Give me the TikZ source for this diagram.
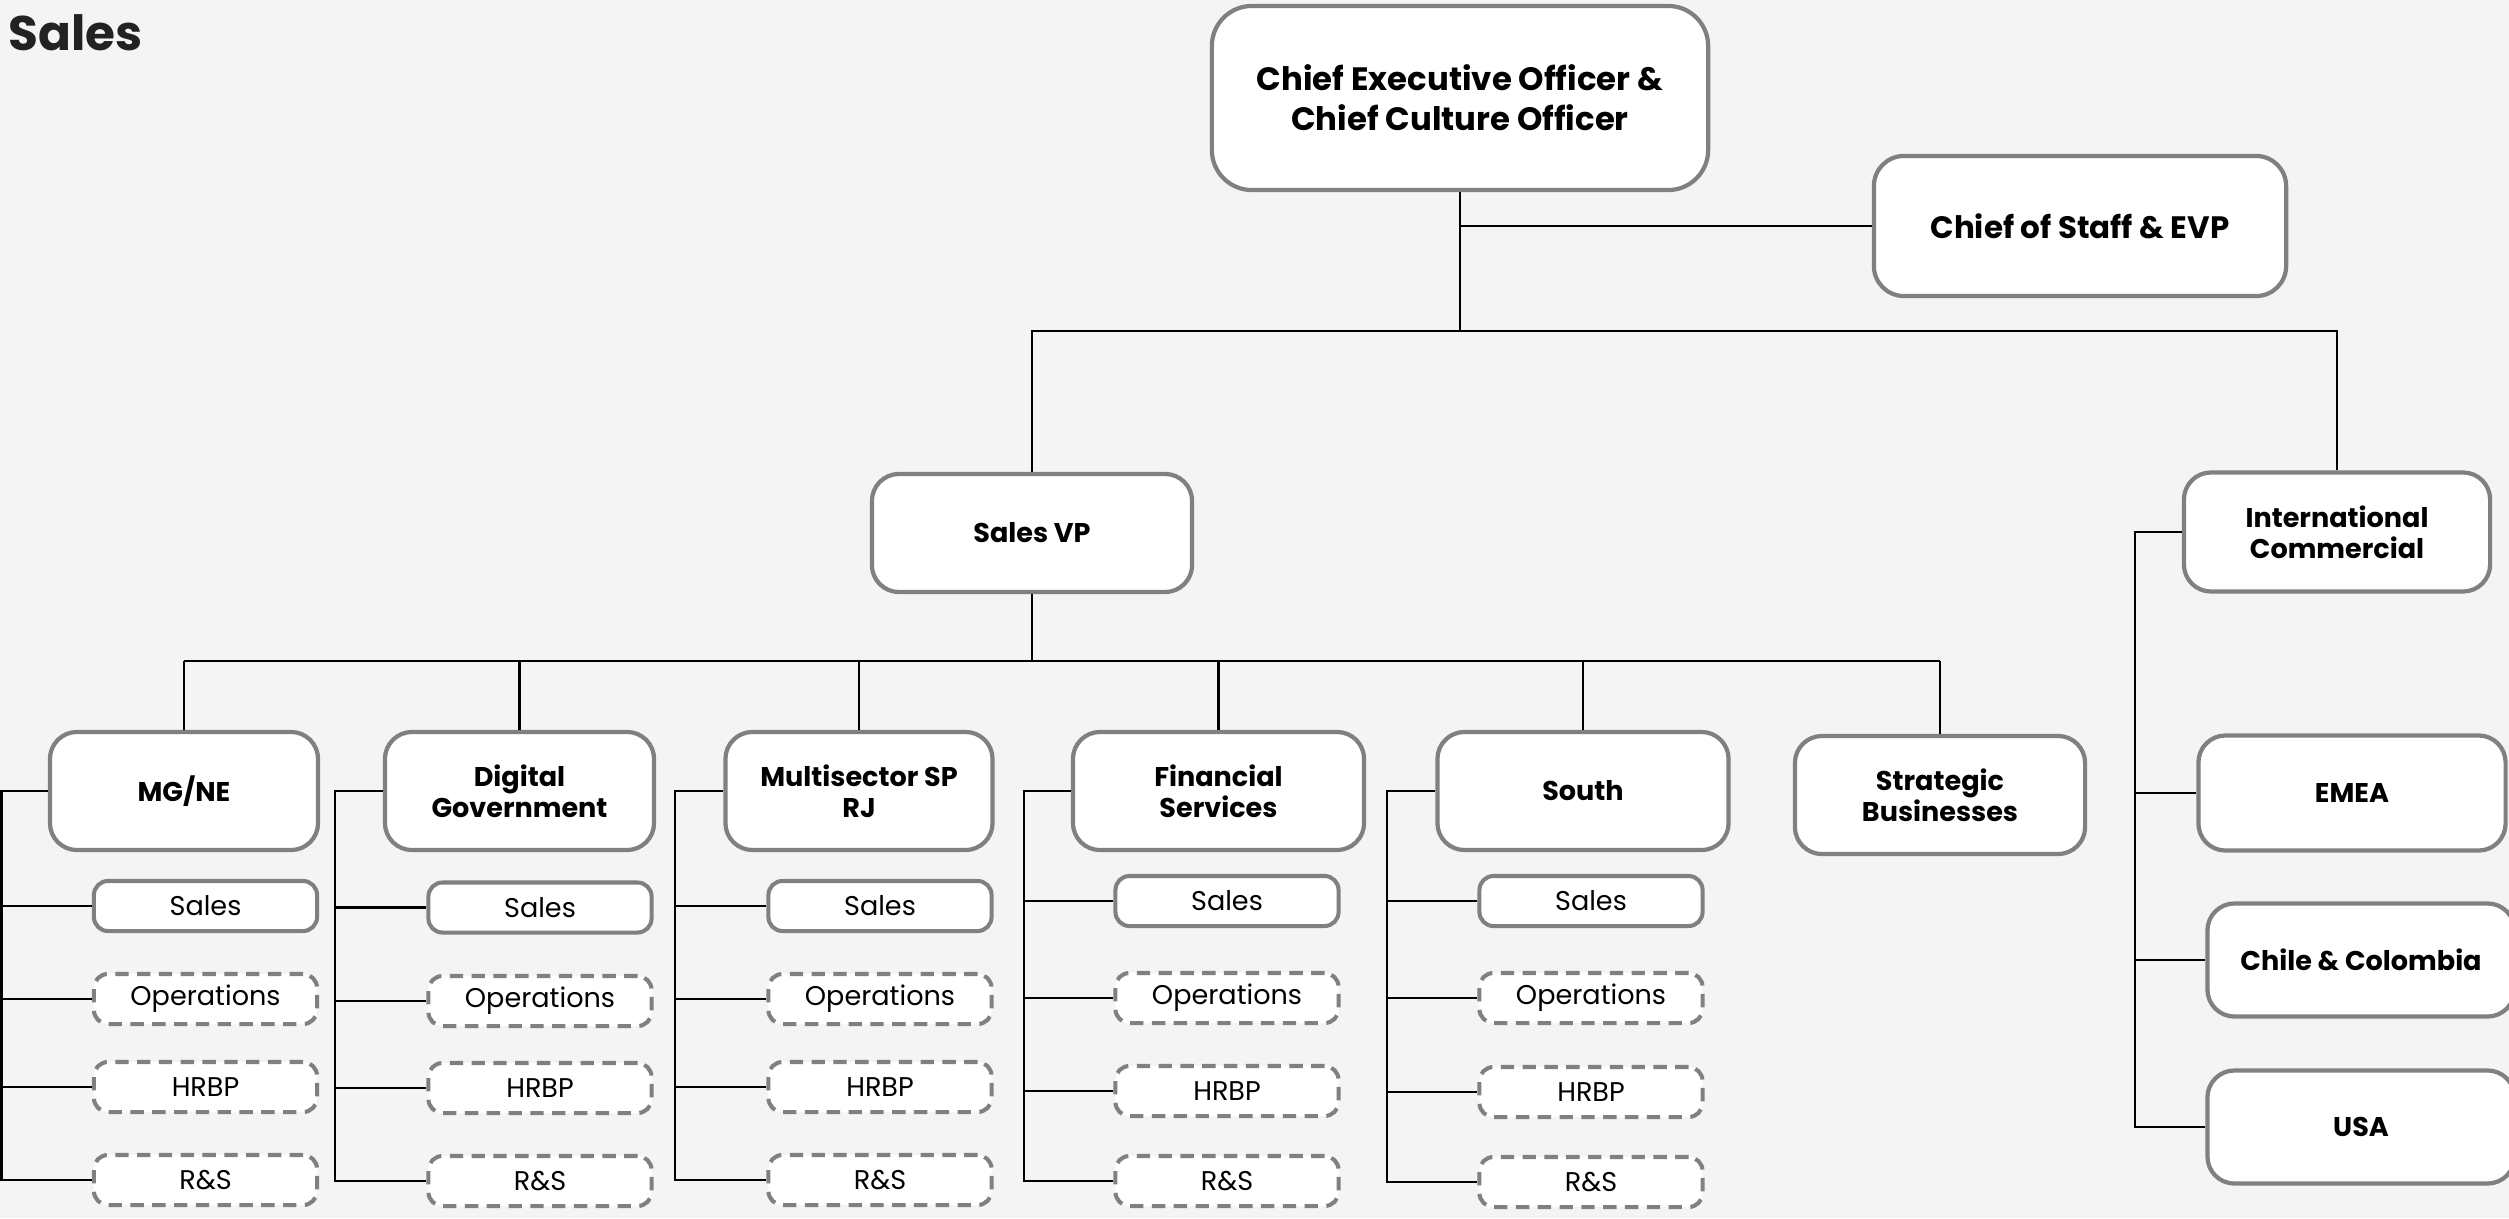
\documentclass[tikz,border=0pt]{standalone}
\usepackage{fontspec}
\setmainfont{Poppins}
\begin{document}
\begin{tikzpicture}[x=0.01cm,y=-0.01cm]
\definecolor{bg}{HTML}{F4F4F4}
\definecolor{boxgray}{HTML}{808080}
\definecolor{ttl}{HTML}{222222}
\tikzset{
  conn/.style={draw=black, line width=0.75pt},
  box/.style={draw=boxgray, line width=1.2pt, fill=white, align=center, inner sep=0pt,
    font=\bfseries\fontsize{7.7}{8.9}\selectfont},
  topbox/.style={box, rounded corners=0.4cm, font=\bfseries\fontsize{9.2}{11.3}\selectfont},
  midbox/.style={box, rounded corners=0.27cm},
  subbox/.style={draw=boxgray, line width=1.15pt, fill=white, rounded corners=0.14cm,
    minimum width=2.23cm, minimum height=0.5cm, inner sep=0pt,
    font=\fontsize{7.7}{9}\selectfont},
  dashbox/.style={subbox, dash pattern=on 3.8pt off 2.4pt}
}
\fill[bg] (0,0) rectangle (2509,1218);
\useasboundingbox (0,0) rectangle (2509,1218);

\node[anchor=base west, inner sep=0pt, text=ttl, font=\bfseries\fontsize{13.8}{16}\selectfont] (title) at (8,51) {Sales};

% top level
\node[topbox, minimum width=4.96cm, minimum height=1.84cm] (ceo) at (1460,98) {Chief Executive Officer \&\\Chief Culture Officer};
\node[topbox, rounded corners=0.3cm, minimum width=4.12cm, minimum height=1.4cm, font=\bfseries\fontsize{8.8}{11}\selectfont] (cos) at (2080,226) {Chief of Staff \& EVP};
\node[midbox, minimum width=3.2cm, minimum height=1.18cm] (svp) at (1032,533) {Sales VP};
\node[midbox, minimum width=3.06cm, minimum height=1.19cm] (intl) at (2337,532) {International\\Commercial};

\coordinate (j1) at (1460,331);
\draw[conn] (ceo.south) -- (j1);
\draw[conn] (ceo.south |- cos.west) -- (cos.west);
\draw[conn] (svp.north) |- (j1) -| (intl.north);

% level 3
\node[midbox, minimum width=2.68cm, minimum height=1.18cm] (mg) at (184,791) {MG/NE};
\node[midbox, minimum width=2.69cm, minimum height=1.18cm] (dg) at (519.5,791) {Digital\\Government};
\node[midbox, minimum width=2.67cm, minimum height=1.18cm] (ms) at (859,791) {Multisector SP\\RJ};
\node[midbox, minimum width=2.91cm, minimum height=1.18cm] (fs) at (1218.5,791) {Financial\\Services};
\node[midbox, minimum width=2.91cm, minimum height=1.18cm] (so) at (1583,791) {South};
\node[midbox, minimum width=2.90cm, minimum height=1.18cm] (sb) at (1940,795) {Strategic\\Businesses};

\coordinate (j2) at (1032,661);
\draw[conn] (svp.south) -- (j2);
\draw[conn] (mg.north |- j2) -- (sb.north |- j2);
\foreach \n in {mg,dg,ms,fs,so,sb}{
  \draw[conn] (\n.north) -- (\n.north |- j2);
}

% sub boxes per column: name, line x, sub centre x, rows
\foreach \n/\lx/\sx/\ra/\rb/\rc/\rd in {
  mg/1.5/205.5/906/999/1087/1180,
  dg/335/540/907.5/1001/1088/1181,
  ms/675/880/906/999/1087/1180,
  fs/1024/1227/901/998/1091/1181,
  so/1387/1591/901/998/1092/1182}{
  \node[subbox] (\n s) at (\sx,\ra) {Sales};
  \node[dashbox] (\n o) at (\sx,\rb) {Operations};
  \node[dashbox] (\n h) at (\sx,\rc) {HRBP};
  \node[dashbox] (\n r) at (\sx,\rd) {R\&S};
  \coordinate (\n bus) at (\lx,0);
  \draw[conn] (\n.west) -- (\n.west -| \n bus) -- (\n bus |- \n r.west) -- (\n r.west);
  \draw[conn] (\n bus |- \n s.west) -- (\n s.west);
  \draw[conn] (\n bus |- \n o.west) -- (\n o.west);
  \draw[conn] (\n bus |- \n h.west) -- (\n h.west);
}

% international
\node[midbox, minimum width=3.07cm, minimum height=1.15cm] (emea) at (2352,793) {EMEA};
\node[midbox, minimum width=3.07cm, minimum height=1.13cm] (cc) at (2361,960) {Chile \& Colombia};
\node[midbox, minimum width=3.07cm, minimum height=1.13cm] (usa) at (2361,1127) {USA};
\coordinate (ibus) at (2135,0);
\draw[conn] (intl.west) -- (intl.west -| ibus) -- (ibus |- usa.west) -- (usa.west);
\draw[conn] (ibus |- emea.west) -- (emea.west);
\draw[conn] (ibus |- cc.west) -- (cc.west);
\end{tikzpicture}
\end{document}
